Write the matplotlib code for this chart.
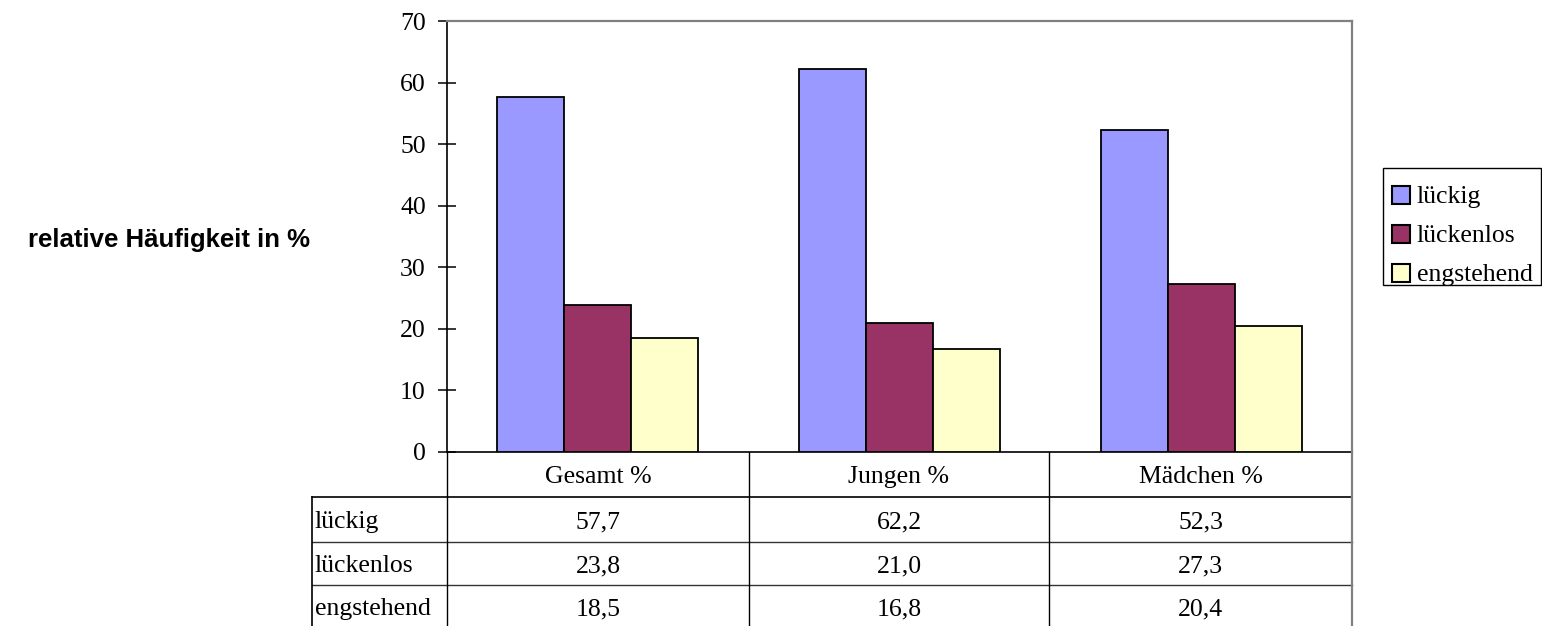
import numpy as np
import matplotlib.pyplot as plt
from matplotlib.patches import Rectangle

groups = ["Gesamt %", "Jungen %", "Mädchen %"]
series = ["lückig", "lückenlos", "engstehend"]
lueckig = [57.7, 62.2, 52.3]
lueckenlos = [23.8, 21.0, 27.3]
engstehend = [18.5, 16.8, 20.4]
colors = ["#9999FF", "#993366", "#FFFFCC"]
yticks = [0, 10, 20, 30, 40, 50, 60, 70]

W, H = 1542, 626
serif = "Liberation Serif"
fs = 18.5

fig = plt.figure(figsize=(W / 100, H / 100), dpi=100)

# plot area in pixel units
x0, x1, y_top, y_bot = 447, 1352, 21, 452
ax = fig.add_axes([x0 / W, 1 - y_bot / H, (x1 - x0) / W, (y_bot - y_top) / H])

values = [lueckig, lueckenlos, engstehend]
x = np.arange(len(groups)) + 0.5
bw = 0.222
for i, vals in enumerate(values):
    ax.bar(x + (i - 1) * bw, vals, width=bw, color=colors[i],
           edgecolor="black", linewidth=1.3, zorder=3)

ax.set_xlim(0, 3)
ax.set_ylim(0, 70)
ax.set_yticks(yticks)
ax.set_yticklabels([str(t) for t in yticks], fontfamily=serif, fontsize=fs)
ax.tick_params(axis="y", direction="inout", length=12.5, width=1.1, pad=9)
ax.set_xticks([])
ax.spines["left"].set_color("black")
ax.spines["bottom"].set_color("black")
ax.spines["left"].set_linewidth(1.2)
ax.spines["bottom"].set_linewidth(1.2)
ax.spines["top"].set_color("#808080")
ax.spines["right"].set_color("#808080")
ax.spines["top"].set_linewidth(1.6)
ax.spines["right"].set_linewidth(1.6)

# data table below the plot, drawn on a full-figure overlay
ov = fig.add_axes([0, 0, 1, 1])
ov.set_xlim(0, W)
ov.set_ylim(H, 0)
ov.axis("off")

col_x = [447, 749, 1049, 1352]
row_y = [452, 497, 542, 585, 628]
lab_x = 312

ov.plot([lab_x, x1], [row_y[1], row_y[1]], color="black", lw=1.2)
for ry in row_y[2:4]:
    ov.plot([lab_x, x1], [ry, ry], color="#333333", lw=1.0)
ov.plot([lab_x, lab_x], [row_y[1], H], color="black", lw=1.2)
for cx in col_x[:3]:
    ov.plot([cx, cx], [row_y[0], H], color="black", lw=1.0)
ov.plot([x1, x1], [row_y[0], H], color="#808080", lw=1.6)

for j, g in enumerate(groups):
    cx = (col_x[j] + col_x[j + 1]) / 2
    ov.text(cx, (row_y[0] + row_y[1]) / 2, g, ha="center",
            va="center_baseline", fontfamily=serif, fontsize=fs)
for i, name in enumerate(series):
    cy = (row_y[i + 1] + row_y[i + 2]) / 2
    ov.text(lab_x + 3, cy, name, ha="left", va="center_baseline",
            fontfamily=serif, fontsize=fs)
    for j in range(len(groups)):
        cx = (col_x[j] + col_x[j + 1]) / 2
        ov.text(cx, cy, f"{values[i][j]:.1f}".replace(".", ","),
                ha="center", va="center_baseline", fontfamily=serif, fontsize=fs)

ov.text(310, 240, "relative Häufigkeit in %", ha="right", va="center",
        fontfamily="Liberation Sans", fontweight="bold", fontsize=18.5)

# legend box with colour squares
ov.add_patch(Rectangle((1383, 168), 158, 117, facecolor="white",
                       edgecolor="black", lw=1.0))
for i, name in enumerate(series):
    cy = 195 + i * 39
    ov.add_patch(Rectangle((1392, cy - 9), 18, 18, facecolor=colors[i],
                           edgecolor="black", lw=1.5))
    ov.text(1417, cy, name, ha="left", va="center_baseline",
            fontfamily=serif, fontsize=fs)

fig.savefig("out.png", dpi=100)
